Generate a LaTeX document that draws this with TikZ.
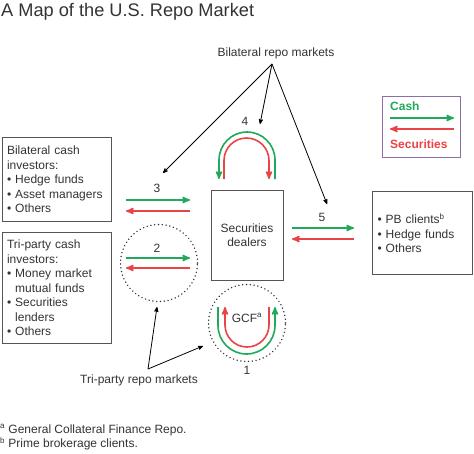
\documentclass[tikz,border=0pt]{standalone}
\usepackage{fontspec}
\setmainfont{Liberation Sans}
\usetikzlibrary{arrows,positioning}
\definecolor{cashgreen}{RGB}{34,168,90}
\definecolor{secred}{RGB}{234,67,69}
\definecolor{legendpurple}{RGB}{138,111,168}
\definecolor{boxgray}{RGB}{85,85,85}
\definecolor{txtgray}{RGB}{51,51,51}
\tikzset{
	%Define standard arrow tip
	>=stealth',
	%Define style for boxes
	kasse/.style={
		rectangle,
		draw=boxgray, line width=1pt,
		inner xsep=5pt,
		align=left,
		anchor=north west},
	% Define style for the dotted markets
	ring/.style={
		circle,
		draw=txtgray, line width=1.6pt,
		dash pattern=on 0.01pt off 3.8pt,
		line cap=round,
		minimum size=77pt},
	% Define arrow styles
	cashpil/.style={
		->,
		draw=cashgreen,
		line width=1.6pt},
	secpil/.style={
		->,
		draw=secred,
		line width=1.6pt},
	pil/.style={
		->,
		draw=black,
		line width=0.8pt},
	tal/.style={text=txtgray, inner sep=1pt}
}
\newcommand{\bul}{\textbullet\ }
\newcommand{\nobul}{\phantom{\textbullet\ }}

\begin{document}
\begin{tikzpicture}[x=1pt, y=-1pt, font=\fontsize{12}{14.5}\selectfont, text=txtgray]
	\useasboundingbox (0,0) rectangle (474,453);
	
	\node[anchor=base west, inner sep=0pt, font=\fontsize{18.2}{20}\selectfont] (title) at (1,16) {A Map of the U.S. Repo Market};
	
	\node[kasse, text width=99pt, minimum height=84pt] (bicash) at (1.5,137) {Bilateral cash\\investors:\\\bul Hedge funds\\\bul Asset managers\\\bul Others};
	\node[kasse, text width=99pt, minimum height=111pt] (tricash) at (1.5,232) {Tri-party cash\\investors:\\\bul Money market\\\nobul mutual funds\\\bul Securities\\\nobul lenders\\\bul Others};
	
	\node[kasse, anchor=center, align=center, minimum width=72pt, minimum height=90pt] (dealers) at (247,235) {Securities\\dealers};
	
	\node[kasse, text width=90pt, minimum height=83pt] (pb) at (372,191) {\bul PB clients\textsuperscript{b}\\\bul Hedge funds\\\bul Others};
	
	\node[draw=legendpurple, line width=1pt, minimum width=78pt, minimum height=61pt, anchor=north west] (legend) at (382,96) {};
	\node[anchor=west, inner sep=0pt, text=cashgreen, font=\fontsize{12}{14}\selectfont\bfseries] (cash-lbl) at (390,106) {Cash};
	\node[anchor=west, inner sep=0pt, text=secred, font=\fontsize{12}{14}\selectfont\bfseries] (sec-lbl) at (390,144) {Securities};
	\coordinate (leg-l1) at (390,118); \coordinate (leg-r1) at (454,118);
	\coordinate (leg-l2) at (390,129); \coordinate (leg-r2) at (454,129);
	\draw[cashpil] (leg-l1) -- (leg-r1);
	\draw[secpil] (leg-r2) -- (leg-l2);
	
	% market 3 (bilateral)
	\node[tal] (lab3) at (157,188) {3};
	\coordinate (m3-l1) at (126,200); \coordinate (m3-r1) at (190,200);
	\coordinate (m3-l2) at (126,211); \coordinate (m3-r2) at (190,211);
	\draw[cashpil] (m3-l1) -- (m3-r1);
	\draw[secpil] (m3-r2) -- (m3-l2);
	
	% market 2 (tri-party)
	\node[ring] (ring2) at (159,263) {};
	\node[tal] (lab2) at (157,248) {2};
	\coordinate (m2-l1) at (126,258); \coordinate (m2-r1) at (190,258);
	\coordinate (m2-l2) at (126,268); \coordinate (m2-r2) at (190,268);
	\draw[cashpil] (m2-l1) -- (m2-r1);
	\draw[secpil] (m2-r2) -- (m2-l2);
	
	% market 5
	\node[tal] (lab5) at (322,217) {5};
	\coordinate (m5-l1) at (292,228); \coordinate (m5-r1) at (354,228);
	\coordinate (m5-l2) at (292,239); \coordinate (m5-r2) at (354,239);
	\draw[cashpil] (m5-l1) -- (m5-r1);
	\draw[secpil] (m5-r2) -- (m5-l2);
	
	% market 4 (dealer to dealer)
	\node[tal] (lab4) at (245,121) {4};
	\draw[cashpil] (275,179) -- (275,160) arc[start angle=0, end angle=-180, radius=28] -- (219,179);
	\draw[secpil] (224,179) -- (224,160.5) arc[start angle=180, end angle=360, radius=22.5] -- (269,179);
	
	% market 1 (GCF)
	\node[ring] (ring1) at (247,323) {};
	\node[tal] (gcf) at (247,318) {GCF\textsuperscript{a}};
	\node[tal, below = 3pt of ring1] (lab1) {1};
	\draw[cashpil] (218,307) -- (218,325.5) arc[start angle=180, end angle=0, radius=28.5] -- (275,307);
	\draw[secpil] (269,307) -- (269,325) arc[start angle=0, end angle=180, radius=22] -- (225,307);
	
	% market labels
	\node[tal] (bilat) at (276,53) {Bilateral repo markets};
	\coordinate (bilat-pt) at (272,64);
	\coordinate (bilat-t3) at (163,173);
	\coordinate (bilat-t4) at (260,124);
	\coordinate (bilat-t5) at (327,204);
	\draw[pil] (bilat-pt) -- (bilat-t3);
	\draw[pil] (bilat-pt) -- (bilat-t4);
	\draw[pil] (bilat-pt) -- (bilat-t5);
	
	\node[tal] (tri) at (139,380) {Tri-party repo markets};
	\coordinate (tri-pt) at (148,369);
	\coordinate (tri-t2) at (157,307);
	\coordinate (tri-t1) at (203,346);
	\draw[pil] (tri-pt) -- (tri-t2);
	\draw[pil] (tri-pt) -- (tri-t1);
	
	% footnotes
	\node[anchor=west, inner sep=0pt] (fn-a) at (0,430) {\textsuperscript{a} General Collateral Finance Repo.};
	\node[anchor=west, inner sep=0pt] (fn-b) at (0,444) {\textsuperscript{b} Prime brokerage clients.};
	
\end{tikzpicture}
\end{document}
